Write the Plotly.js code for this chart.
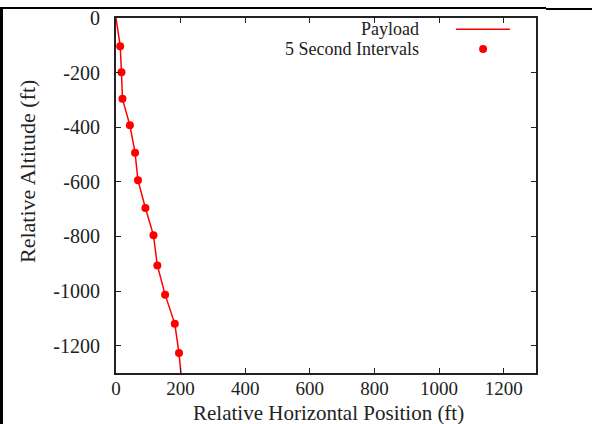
<!DOCTYPE html>
<html>
<head>
<meta charset="utf-8">
<script src="https://cdn.plot.ly/plotly-3.0.1.min.js"></script>
<style>
html,body{margin:0;padding:0;background:#fff;}
#wrap{position:relative;width:592px;height:424px;overflow:hidden;}
#chart{position:absolute;left:0;top:0;width:592px;height:424px;}
#bt{position:absolute;left:0;top:7px;width:546px;height:1.5px;background:#000;}
#bt2{position:absolute;left:546px;top:8px;width:46px;height:2px;background:#000;}
#bl{position:absolute;left:0;top:8px;width:2.5px;height:416px;background:#000;}
</style>
</head>
<body>
<div id="wrap"><div id="chart"></div><div id="bt"></div><div id="bt2"></div><div id="bl"></div></div>
<script>
// Payload trajectory (ft)
const pathX = [0, 13, 17, 20, 43, 59, 68, 91, 116, 128, 152, 182, 195, 201];
const pathAlt = [0, -103, -199, -296, -393, -493, -594, -696, -796, -906, -1013, -1120, -1227, -1300];
// 5 second interval markers (ft)
const markX = [13, 17, 20, 43, 59, 68, 91, 116, 128, 152, 182, 195];
const markAlt = [-103, -199, -296, -393, -493, -594, -696, -796, -906, -1013, -1120, -1227];
// tick labels
const xTicks = [0, 200, 400, 600, 800, 1000, 1200];
const yTicks = [0, -200, -400, -600, -800, -1000, -1200];
const seriesNames = ['Payload', '5 Second Intervals'];

const FONT = '"Liberation Serif", "Times New Roman", serif';
const AX = '#222';

const traces = [
  {x: pathX, y: pathAlt, type: 'scatter', mode: 'lines', name: seriesNames[0],
   line: {color: '#ff0000', width: 1.5}, showlegend: false},
  {x: markX, y: markAlt, type: 'scatter', mode: 'markers', name: seriesNames[1],
   marker: {color: '#ff0000', size: 8}, showlegend: false}
];

const axisCommon = {
  showline: true, linecolor: AX, linewidth: 2, mirror: 'ticks',
  ticks: 'inside', ticklen: 5, tickwidth: 1, tickcolor: AX,
  showgrid: false, zeroline: false,
  tickfont: {family: FONT, size: 20, color: AX}
};

const layout = {
  width: 592, height: 424,
  margin: {l: 116, r: 56, t: 18, b: 51},
  paper_bgcolor: '#fff', plot_bgcolor: '#fff',
  font: {family: FONT, color: AX},
  showlegend: false,
  xaxis: Object.assign({}, axisCommon, {
    range: [0, 1300], tickvals: xTicks, ticktext: xTicks.map(String),
    ticklabelstandoff: -3, tickfont: {family: FONT, size: 19, color: AX}
  }),
  yaxis: Object.assign({}, axisCommon, {
    range: [-1300, 0], tickvals: yTicks, ticktext: yTicks.map(String),
    ticklabelstandoff: 10
  }),
  annotations: [
    {xref: 'paper', yref: 'paper', x: 0.507, y: -0.113, text: 'Relative Horizontal Position (ft)',
     showarrow: false, xanchor: 'center', yanchor: 'middle',
     font: {family: FONT, size: 21, color: AX}},
    {xref: 'paper', yref: 'paper', x: -0.212, y: 0.569, text: 'Relative Altitude (ft)',
     textangle: -90, showarrow: false, xanchor: 'center', yanchor: 'middle',
     font: {family: FONT, size: 22, color: AX}},
    {xref: 'paper', yref: 'paper', x: 0.726, y: 0.969, text: seriesNames[0],
     showarrow: false, xanchor: 'right', yanchor: 'middle',
     font: {family: FONT, size: 18, color: AX}},
    {xref: 'paper', yref: 'paper', x: 0.726, y: 0.912, text: seriesNames[1],
     showarrow: false, xanchor: 'right', yanchor: 'middle',
     font: {family: FONT, size: 18, color: AX}}
  ],
  shapes: [
    {type: 'line', xref: 'paper', yref: 'paper', x0: 0.8095, x1: 0.938, y0: 0.968, y1: 0.968,
     line: {color: '#ff0000', width: 1.5}},
    {type: 'circle', xref: 'paper', yref: 'paper', xsizemode: 'pixel', ysizemode: 'pixel',
     xanchor: 0.874, yanchor: 0.913, x0: -4, x1: 4, y0: -4, y1: 4,
     fillcolor: '#ff0000', line: {color: '#ff0000', width: 0}}
  ]
};

Plotly.newPlot('chart', traces, layout, {staticPlot: true, displayModeBar: false});
</script>
</body>
</html>
